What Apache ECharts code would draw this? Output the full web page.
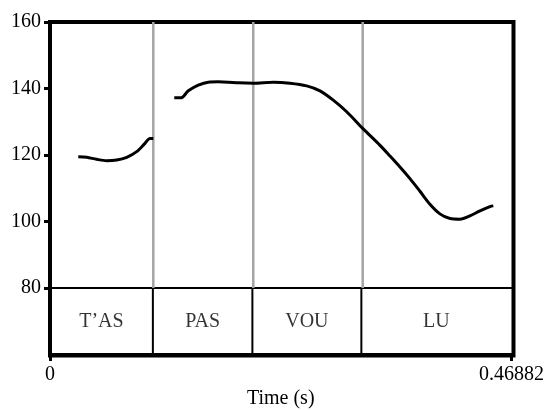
<!DOCTYPE html>
<html>
<head>
<meta charset="utf-8">
<script src="https://cdn.jsdelivr.net/npm/echarts@6/dist/echarts.min.js"></script>
<style>
  html, body { margin: 0; padding: 0; background: #fff; }
  #chart { width: 547px; height: 410px; }
</style>
</head>
<body>
<div id="chart"></div>
<script>
// Time span of the recording (s)
const tMax = 0.46882;
const xTickLabels = ['0', '0.46882'];

// Pitch axis (Hz)
const yMin = 80, yMax = 160, yStep = 20;

// Syllable tier: interval boundaries (s) and labels
const tierBounds = [0, 0.1045, 0.2056, 0.3163, 0.46882];
const tierLabels = ['T\u2019AS', 'PAS', 'VOU', 'LU'];

// F0 contour, voiced stretch 1: [time (s), Hz]
const f0Part1 = [
  [0.0286, 119.5], [0.0371, 119.3], [0.0472, 118.7], [0.0573, 118.3],
  [0.0675, 118.5], [0.0776, 119.3], [0.0877, 121.0], [0.0961, 123.5],
  [0.1011, 125.0], [0.1045, 125.0]
];

// F0 contour, voiced stretch 2: [time (s), Hz]
const f0Part2 = [
  [0.1257, 137.2], [0.1325, 137.2], [0.1399, 139.3], [0.1500, 141.0],
  [0.1601, 141.9], [0.1702, 142.0], [0.1803, 141.9], [0.1905, 141.7],
  [0.2056, 141.6], [0.2259, 141.9], [0.2427, 141.6], [0.2596, 140.8],
  [0.2731, 139.3], [0.2865, 136.5], [0.3001, 133.0], [0.3163, 128.0],
  [0.3338, 122.9], [0.3439, 119.7], [0.3540, 116.4], [0.3641, 112.9],
  [0.3742, 109.1], [0.3843, 105.2], [0.3944, 102.3], [0.4046, 100.9],
  [0.4147, 100.7], [0.4248, 101.7], [0.4349, 103.2], [0.4450, 104.5],
  [0.4484, 104.7]
];

const font = "'Liberation Serif', 'Times New Roman', serif";
const inner = tierBounds.slice(1, -1);
const tierPoints = tierLabels.map((name, i) => ({
  name: name,
  value: [(tierBounds[i] + tierBounds[i + 1]) / 2, 0.5]
}));

// one vertical segment per boundary, drawn through the axes
const boundarySeries = (xi, yi, lo, hi, color, width) => inner.map(t => ({
  type: 'line', xAxisIndex: xi, yAxisIndex: yi, silent: true,
  data: [[t, lo], [t, hi]], showSymbol: false, z: 1,
  lineStyle: { color: color, width: width }
}));

const L = 50, W = 463.5;
const chart = echarts.init(document.getElementById('chart'), null, { renderer: 'canvas' });
chart.setOption({
  animation: false,
  backgroundColor: '#ffffff',
  grid: [
    { left: L, top: 22, width: W, height: 266 },
    { left: L, top: 288, width: W, height: 67.5 },
    { left: L, top: 22, width: W, height: 333.5, show: true, borderColor: '#000', borderWidth: 4, backgroundColor: 'transparent' }
  ],
  xAxis: [
    {
      gridIndex: 0, type: 'value', min: 0, max: tMax,
      axisLine: { show: true, onZero: false, lineStyle: { color: '#000', width: 2 } },
      axisTick: { show: false }, axisLabel: { show: false }, splitLine: { show: false }
    },
    {
      gridIndex: 1, type: 'value', min: 0, max: tMax, interval: tMax,
      axisLine: { show: true, onZero: false, lineStyle: { color: '#000', width: 4 } },
      axisTick: { show: true, length: 6, lineStyle: { color: '#000', width: 3 } },
      axisLabel: {
        show: true, margin: 10, fontFamily: font, fontSize: 20, color: '#000',
        showMinLabel: true, showMaxLabel: true,
        formatter: (v, i) => xTickLabels[i] !== undefined ? xTickLabels[i] : ''
      },
      splitLine: { show: false },
      name: 'Time (s)', nameLocation: 'middle', nameGap: 34,
      nameTextStyle: { fontFamily: font, fontSize: 20, color: '#000' }
    },
    { gridIndex: 2, type: 'value', min: 0, max: 1, show: false }
  ],
  yAxis: [
    {
      gridIndex: 0, type: 'value', min: yMin, max: yMax, interval: yStep,
      axisLine: { show: true, onZero: false, lineStyle: { color: '#000', width: 4 } },
      axisTick: { show: true, length: 6, lineStyle: { color: '#000', width: 3 } },
      axisLabel: { margin: 9, fontFamily: font, fontSize: 20, color: '#000' },
      splitLine: { show: false }
    },
    {
      gridIndex: 1, type: 'value', min: 0, max: 1,
      axisLine: { show: true, onZero: false, lineStyle: { color: '#000', width: 4 } },
      axisTick: { show: false }, axisLabel: { show: false }, splitLine: { show: false }
    },
    { gridIndex: 2, type: 'value', min: 0, max: 1, show: false }
  ],
  series: [
    ...boundarySeries(0, 0, yMin, yMax, '#a4a4a4', 2.5),
    ...boundarySeries(1, 1, 0, 1, '#000', 2),
    {
      type: 'scatter', xAxisIndex: 1, yAxisIndex: 1, symbolSize: 0,
      data: tierPoints, silent: true,
      label: {
        show: true, position: 'inside', formatter: p => p.name,
        fontFamily: font, fontSize: 20, color: '#000'
      }
    },
    {
      type: 'line', xAxisIndex: 0, yAxisIndex: 0, data: f0Part1, z: 3,
      smooth: 0.3, showSymbol: false, silent: true,
      lineStyle: { color: '#000', width: 3 }
    },
    {
      type: 'line', xAxisIndex: 0, yAxisIndex: 0, data: f0Part2, z: 3,
      smooth: 0.3, showSymbol: false, silent: true,
      lineStyle: { color: '#000', width: 3 }
    }
  ]
});
</script>
</body>
</html>
